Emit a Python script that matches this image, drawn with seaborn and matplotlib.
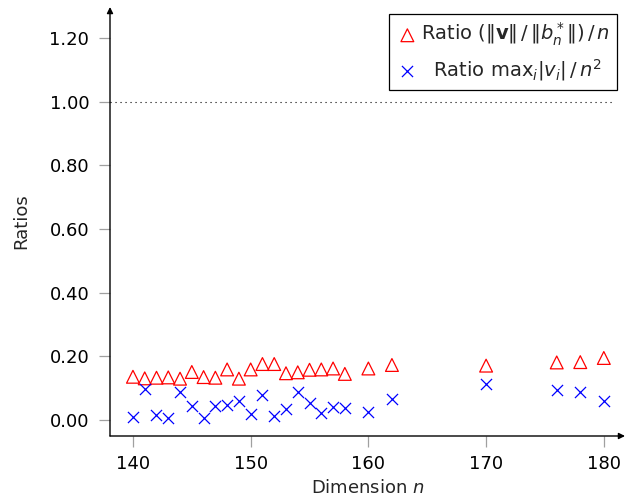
import numpy as np
import pandas as pd
import matplotlib
matplotlib.use("Agg")
import matplotlib.pyplot as plt
import seaborn as sns
from matplotlib.ticker import FormatStrFormatter


sns.set_theme(style="white")
plt.rcParams["font.family"] = ["DejaVu Sans"]
plt.rcParams["mathtext.fontset"] = "dejavusans"


# Dimension n for both series
DIMS = [140, 141, 142, 143, 144, 145, 146, 147, 148, 149, 150, 151, 152,
        153, 154, 155, 156, 157, 158, 160, 162, 170, 176, 178, 180]

# (||v|| / ||b_n^*||) / n
RATIO_NORM = [0.136, 0.131, 0.133, 0.134, 0.130, 0.151, 0.135, 0.133, 0.159,
              0.130, 0.159, 0.176, 0.176, 0.147, 0.150, 0.158, 0.159, 0.162,
              0.145, 0.162, 0.173, 0.171, 0.181, 0.182, 0.195]

# max_i |v_i| / n^2
RATIO_MAX = [0.010, 0.098, 0.017, 0.006, 0.089, 0.044, 0.005, 0.043, 0.048,
             0.059, 0.020, 0.078, 0.014, 0.035, 0.087, 0.053, 0.021, 0.041,
             0.039, 0.025, 0.065, 0.113, 0.093, 0.087, 0.060]

X_TICKS = [140, 150, 160, 170, 180]
Y_TICKS = [0.0, 0.2, 0.4, 0.6, 0.8, 1.0, 1.2]

LABEL_NORM = r"Ratio $(\Vert\mathbf{v}\Vert\,/\,\Vert b_n^*\Vert)\,/\,n$"
LABEL_MAX = r"  Ratio $\mathrm{max}_i|v_i|\,/\,n^2$"


def main():
    df = pd.DataFrame({"n": DIMS, "norm": RATIO_NORM, "max": RATIO_MAX})

    fig = plt.figure(figsize=(6.26, 5.03), dpi=100)
    ax = fig.add_axes([110 / 626, 67 / 503, 515 / 626, 429 / 503])

    sns.scatterplot(
        data=df, x="n", y="norm", marker="^", s=85,
        facecolors="none", edgecolor="red", linewidth=0.9,
        label=LABEL_NORM, ax=ax,
    )
    sns.scatterplot(
        data=df, x="n", y="max", marker="x", s=64,
        color="blue", linewidth=0.9,
        label=LABEL_MAX, ax=ax,
    )

    ax.set_xlim(138.05, 181.8)
    ax.set_ylim(-0.050, 1.297)

    # reference line at ratio 1
    ax.axhline(1.0, xmin=0, xmax=0.98, color="black", lw=0.8,
               linestyle=(0, (1, 3.5)))

    ax.set_xticks(X_TICKS)
    ax.set_yticks(Y_TICKS)
    ax.yaxis.set_major_formatter(FormatStrFormatter("%.2f"))
    ax.tick_params(axis="both", which="major", direction="out", length=8,
                   width=0.9, color="#a0a0a0", labelsize=13, labelcolor="black",
                   bottom=True, left=True)
    ax.tick_params(axis="y", pad=7)
    ax.tick_params(axis="x", pad=6)

    ax.set_xlabel("Dimension $n$", fontsize=13, labelpad=4)
    ax.set_ylabel("Ratios", fontsize=13, labelpad=14)

    for side in ["top", "right", "left", "bottom"]:
        ax.spines[side].set_visible(False)

    # axis lines with arrow heads
    ax.annotate("", xy=(1, 0), xytext=(0, 0), xycoords="axes fraction",
                arrowprops=dict(arrowstyle="-|>", lw=1.0, color="black",
                                mutation_scale=9, shrinkA=0, shrinkB=0))
    ax.annotate("", xy=(0, 1), xytext=(0, 0), xycoords="axes fraction",
                arrowprops=dict(arrowstyle="-|>", lw=1.0, color="black",
                                mutation_scale=9, shrinkA=0, shrinkB=0))

    leg = ax.legend(loc="upper right", bbox_to_anchor=(0.984, 0.984),
                    borderaxespad=0, fontsize=14, frameon=True, fancybox=False,
                    edgecolor="black", framealpha=1, handletextpad=0.1,
                    handlelength=1.2, labelspacing=0.45, borderpad=0.35)
    leg.get_frame().set_linewidth(0.9)

    fig.savefig("out.png", dpi=100)


if __name__ == "__main__":
    main()
